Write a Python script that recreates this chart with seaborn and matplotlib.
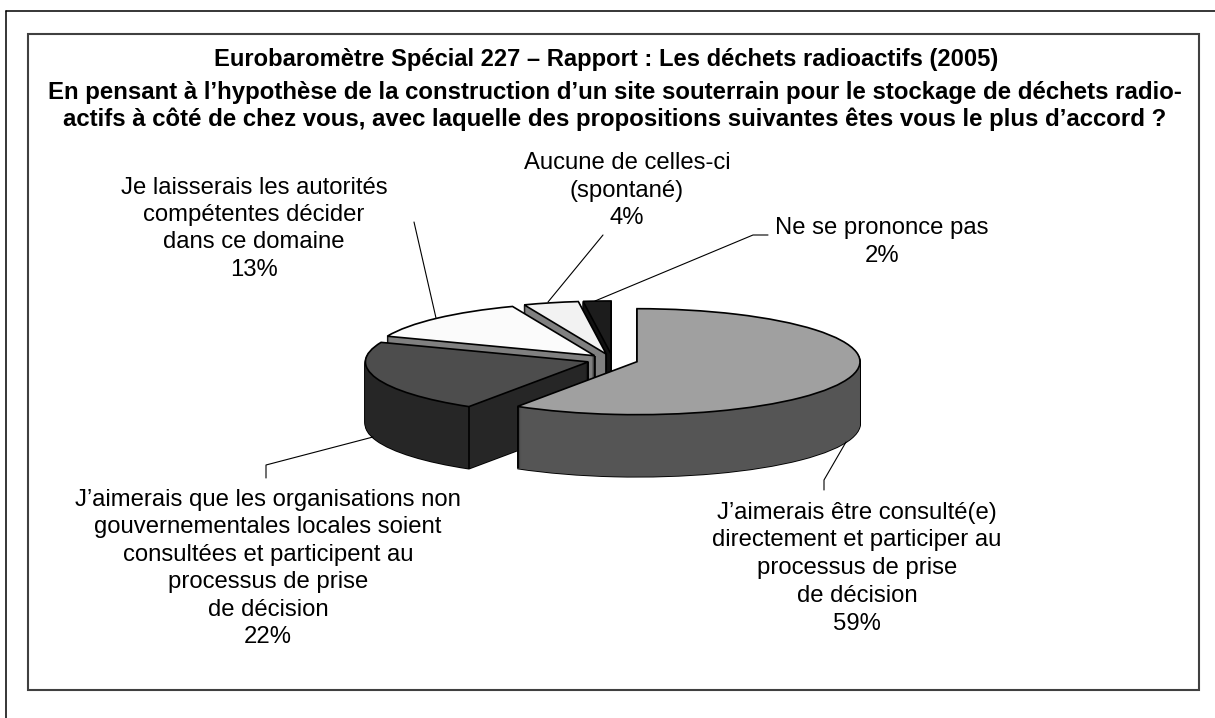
import numpy as np
import seaborn as sns
import matplotlib.pyplot as plt
from matplotlib.patches import Rectangle

shares = [59, 22, 13, 4, 2]
top_colors = ["#a0a0a0", "#4d4d4d", "#fbfbfb", "#f2f2f2", "#1c1c1c"]
side_colors = ["#555555", "#262626", "#808080", "#808080", "#111111"]

title_lines = [
    "Eurobaromètre Spécial 227 – Rapport : Les déchets radioactifs (2005)",
    "En pensant à l’hypothèse de la construction d’un site souterrain pour le stockage de déchets radio-",
    "actifs à côté de chez vous, avec laquelle des propositions suivantes êtes vous le plus d’accord ?",
]
label_lines = [
    ["J’aimerais être consulté(e)", "directement et participer au", "processus de prise", "de décision", "59%"],
    ["J’aimerais que les organisations non", "gouvernementales locales soient", "consultées et participent au",
     "processus de prise", "de décision", "22%"],
    ["Je laisserais les autorités", "compétentes décider", "dans ce domaine", "13%"],
    ["Aucune de celles-ci", "(spontané)", "4%"],
    ["Ne se prononce pas", "2%"],
]

W, H = 1215, 718
# pie geometry in pixels
cx, cy = 612.6, 360.0
rx, ry = 223.0, 53.0
depth = 62
yscale = rx / ry
explode = [0.114 * rx] * 5  # pie() takes the offset in data units

sns.set_theme(style="white")
plt.rcParams['font.family'] = ['Liberation Sans', 'DejaVu Sans']

fig = plt.figure(figsize=(W / 100, H / 100), dpi=100, facecolor="white")

ax = fig.add_axes([0, 0, 1, 1])


def draw_layer(offset, colors, zbase, **wedgeprops):
    wedges, _ = ax.pie(shares, explode=explode, colors=colors, startangle=90, counterclock=False,
                       radius=rx, center=(cx, (H - cy - offset) * yscale), wedgeprops=wedgeprops)
    for rank, w in enumerate(wedges):
        # slices stack from the last one (back) to the first one (front)
        w.set_zorder((5 - rank) * 10 + zbase)
    return wedges


# extruded body: black silhouette, then side colour, then the top face
for d in range(depth, 0, -1):
    draw_layer(d, ["black"] * 5, 1, edgecolor="black", linewidth=1.3)
for d in range(depth, 0, -1):
    draw_layer(d, side_colors, 2, edgecolor="none", linewidth=0)
tops = draw_layer(0, top_colors, 5, edgecolor="black", linewidth=1.2)

for rank, w in enumerate(tops):
    x0, y0 = w.center
    z = (5 - rank) * 10 + 3
    dy = depth * yscale
    # edge under the apex, the front slice hides its own
    if rank > 0:
        ax.plot([x0, x0], [y0, y0 - dy], color="black", lw=1.2, zorder=z, solid_capstyle="butt")
    # edge under a rim corner facing the viewer
    for theta in (w.theta1, w.theta2):
        if np.sin(np.radians(theta)) < 0:
            xr = x0 + rx * np.cos(np.radians(theta))
            yr = y0 + rx * np.sin(np.radians(theta))
            ax.plot([xr, xr], [yr, yr - dy], color="black", lw=1.2, zorder=z, solid_capstyle="butt")

ax.set_aspect('auto')
ax.set_xlim(0, W)
ax.set_ylim(0, H * yscale)
ax.axis("off")

# overlay in pixel coordinates for frames, text and leader lines
ov = fig.add_axes([0, 0, 1, 1])
ov.set_xlim(0, W)
ov.set_ylim(H, 0)
ov.axis("off")
ov.patch.set_alpha(0)

ov.plot([6, 6], [11, H], color="black", lw=1.1)
ov.plot([6, W], [11, 11], color="black", lw=1.1)
ov.add_patch(Rectangle((28, 34), 1171, 656, fill=False, edgecolor="#404040", lw=1.5))

for line, x, y, size in zip(title_lines, [606, 614.5, 615], [66, 98.5, 126], [17.15, 17.3, 17.3]):
    ov.text(x, y, line, ha="center", va="baseline", fontsize=size, fontweight="bold", color="black")

label_x = [857, 268, 254, 627, 882]
label_y = [518.5, 506, 193.5, 169, 234]
label_step = [27.8, 27.4, 27.5, 27.6, 27.6]
for lines, x, y, step in zip(label_lines, label_x, label_y, label_step):
    for i, line in enumerate(lines):
        ov.text(x, y + i * step, line, ha="center", va="baseline", fontsize=17.2, color="black")

leaders = [
    ([824, 824, 846], [490, 480, 442]),
    ([266, 266, 373], [478, 465, 437]),
    ([414, 436], [222, 318]),
    ([603, 548], [235, 302]),
    ([768, 753, 595], [235, 235, 301]),
]
for xs, ys in leaders:
    ov.plot(xs, ys, color="black", lw=0.8)

fig.savefig("out.png", dpi=100)
